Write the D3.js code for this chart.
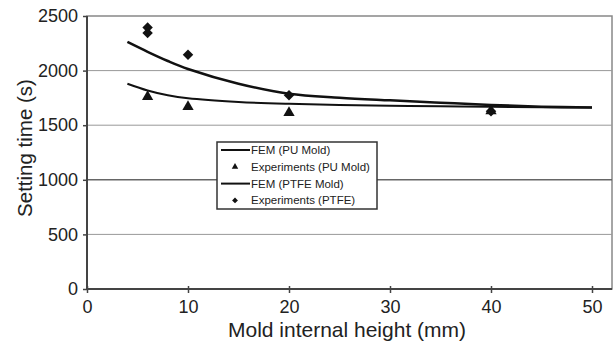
<!DOCTYPE html>
<html>
<head>
<meta charset="utf-8">
<script src="https://cdn.jsdelivr.net/npm/d3@7"></script>
<style>
  body { margin: 0; background: #fff; }
  text { font-family: "Liberation Sans", Arial, sans-serif; }
</style>
</head>
<body>
<svg id="chart" width="615" height="349"></svg>
<script>
const heights = [4, 6, 8, 10, 15, 20, 25, 30, 35, 40, 45, 50];
const femPtfe = [2262, 2172, 2088, 2015, 1880, 1788, 1752, 1728, 1706, 1685, 1670, 1662];
const femPu = [1880, 1818, 1774, 1746, 1713, 1696, 1686, 1679, 1673, 1668, 1664, 1662];

const expPu = [
  { h: 6, t: 1760 },
  { h: 10, t: 1670 },
  { h: 20, t: 1615 },
  { h: 40, t: 1630 }
];
const expPtfe = [
  { h: 6, t: 2395 },
  { h: 6, t: 2345 },
  { h: 10, t: 2145 },
  { h: 20, t: 1775 },
  { h: 40, t: 1628 }
];

const xTicks = [0, 10, 20, 30, 40, 50];
const yTicks = [0, 500, 1000, 1500, 2000, 2500];
const legendItems = [
  { label: 'FEM (PU Mold)', kind: 'line' },
  { label: 'Experiments (PU Mold)', kind: 'triangle' },
  { label: 'FEM (PTFE Mold)', kind: 'line' },
  { label: 'Experiments (PTFE)', kind: 'diamond' }
];

const svg = d3.select('#chart');
const plotLeft = 87, plotTop = 16, plotRight = 612, plotBottom = 289;

const x = d3.scaleLinear().domain([0, 50]).range([plotLeft, 592]);
const y = d3.scaleLinear().domain([0, 2500]).range([plotBottom, plotTop]);

// plot frame + grid
svg.append('rect')
  .attr('x', plotLeft).attr('y', plotTop)
  .attr('width', plotRight - plotLeft).attr('height', plotBottom - plotTop)
  .attr('fill', '#fff').attr('stroke', '#888').attr('stroke-width', 1.5);

svg.append('g').selectAll('line')
  .data(yTicks.filter(d => d > 0 && d < 2500))
  .join('line')
  .attr('x1', plotLeft).attr('x2', plotRight)
  .attr('y1', d => y(d)).attr('y2', d => y(d))
  .attr('stroke', d => d === 1000 ? '#666' : '#999')
  .attr('stroke-width', d => d === 1000 ? 1.5 : 1);

// axes
const yAxis = svg.append('g')
  .attr('transform', `translate(${plotLeft},0)`)
  .call(d3.axisLeft(y).tickValues(yTicks).tickFormat(d3.format('d')).tickSize(4).tickPadding(5));
const xAxis = svg.append('g')
  .attr('transform', `translate(0,${plotBottom})`)
  .call(d3.axisBottom(x).tickValues(xTicks).tickFormat(d3.format('d')).tickSize(4).tickPadding(7));

[yAxis, xAxis].forEach(a => {
  a.select('.domain').remove();
  a.selectAll('line').attr('stroke', '#444').attr('stroke-width', 1.5);
  a.selectAll('text').attr('font-size', 18).attr('fill', '#222');
});
xAxis.selectAll('.tick line').attr('y1', -3);

svg.append('line')
  .attr('x1', plotLeft).attr('x2', plotLeft).attr('y1', plotTop).attr('y2', plotBottom)
  .attr('stroke', '#444').attr('stroke-width', 2);
svg.append('line')
  .attr('x1', plotLeft).attr('x2', plotRight).attr('y1', plotBottom).attr('y2', plotBottom)
  .attr('stroke', '#444').attr('stroke-width', 2);

// axis titles
svg.append('text')
  .attr('transform', `translate(32,148) rotate(-90)`)
  .attr('text-anchor', 'middle')
  .attr('font-size', 20.5).attr('fill', '#222')
  .text('Setting time (s)');
svg.append('text')
  .attr('x', 347).attr('y', 337)
  .attr('text-anchor', 'middle')
  .attr('font-size', 21).attr('fill', '#222')
  .text('Mold internal height (mm)');

// FEM curves
const line = d3.line()
  .x((d, i) => x(heights[i]))
  .y(d => y(d))
  .curve(d3.curveCatmullRom.alpha(0.5));

svg.append('path').datum(femPu)
  .attr('d', line).attr('fill', 'none')
  .attr('stroke', '#111').attr('stroke-width', 2);
svg.append('path').datum(femPtfe)
  .attr('d', line).attr('fill', 'none')
  .attr('stroke', '#111').attr('stroke-width', 2.5);

// experiment markers
const tri = d3.symbol().type(d3.symbolTriangle).size(55);
const dia = d3.symbol().type(d3.symbolDiamond2).size(70);

svg.append('g').selectAll('path')
  .data(expPu)
  .join('path')
  .attr('transform', d => `translate(${x(d.h)},${y(d.t)})`)
  .attr('d', tri).attr('fill', '#111');
svg.append('g').selectAll('path')
  .data(expPtfe)
  .join('path')
  .attr('transform', d => `translate(${x(d.h)},${y(d.t)})`)
  .attr('d', dia).attr('fill', '#111');

// legend
const legend = svg.append('g').attr('transform', 'translate(217,142)');
legend.append('rect')
  .attr('width', 160).attr('height', 67)
  .attr('fill', '#fff').attr('stroke', '#333').attr('stroke-width', 1.5);

const rows = legend.selectAll('g.row')
  .data(legendItems)
  .join('g')
  .attr('class', 'row')
  .attr('transform', (d, i) => `translate(0,${8 + i * 16.8})`);

rows.filter(d => d.kind === 'line').append('line')
  .attr('x1', 4).attr('x2', 33).attr('y1', 0).attr('y2', 0)
  .attr('stroke', '#111').attr('stroke-width', 2);
rows.filter(d => d.kind === 'triangle').append('path')
  .attr('transform', 'translate(18,0)')
  .attr('d', d3.symbol().type(d3.symbolTriangle).size(18)).attr('fill', '#111');
rows.filter(d => d.kind === 'diamond').append('path')
  .attr('transform', 'translate(18,0)')
  .attr('d', d3.symbol().type(d3.symbolDiamond2).size(22)).attr('fill', '#111');

rows.append('text')
  .attr('x', 34).attr('y', 4)
  .attr('font-size', 11.5).attr('fill', '#222')
  .text(d => d.label);
</script>
</body>
</html>
